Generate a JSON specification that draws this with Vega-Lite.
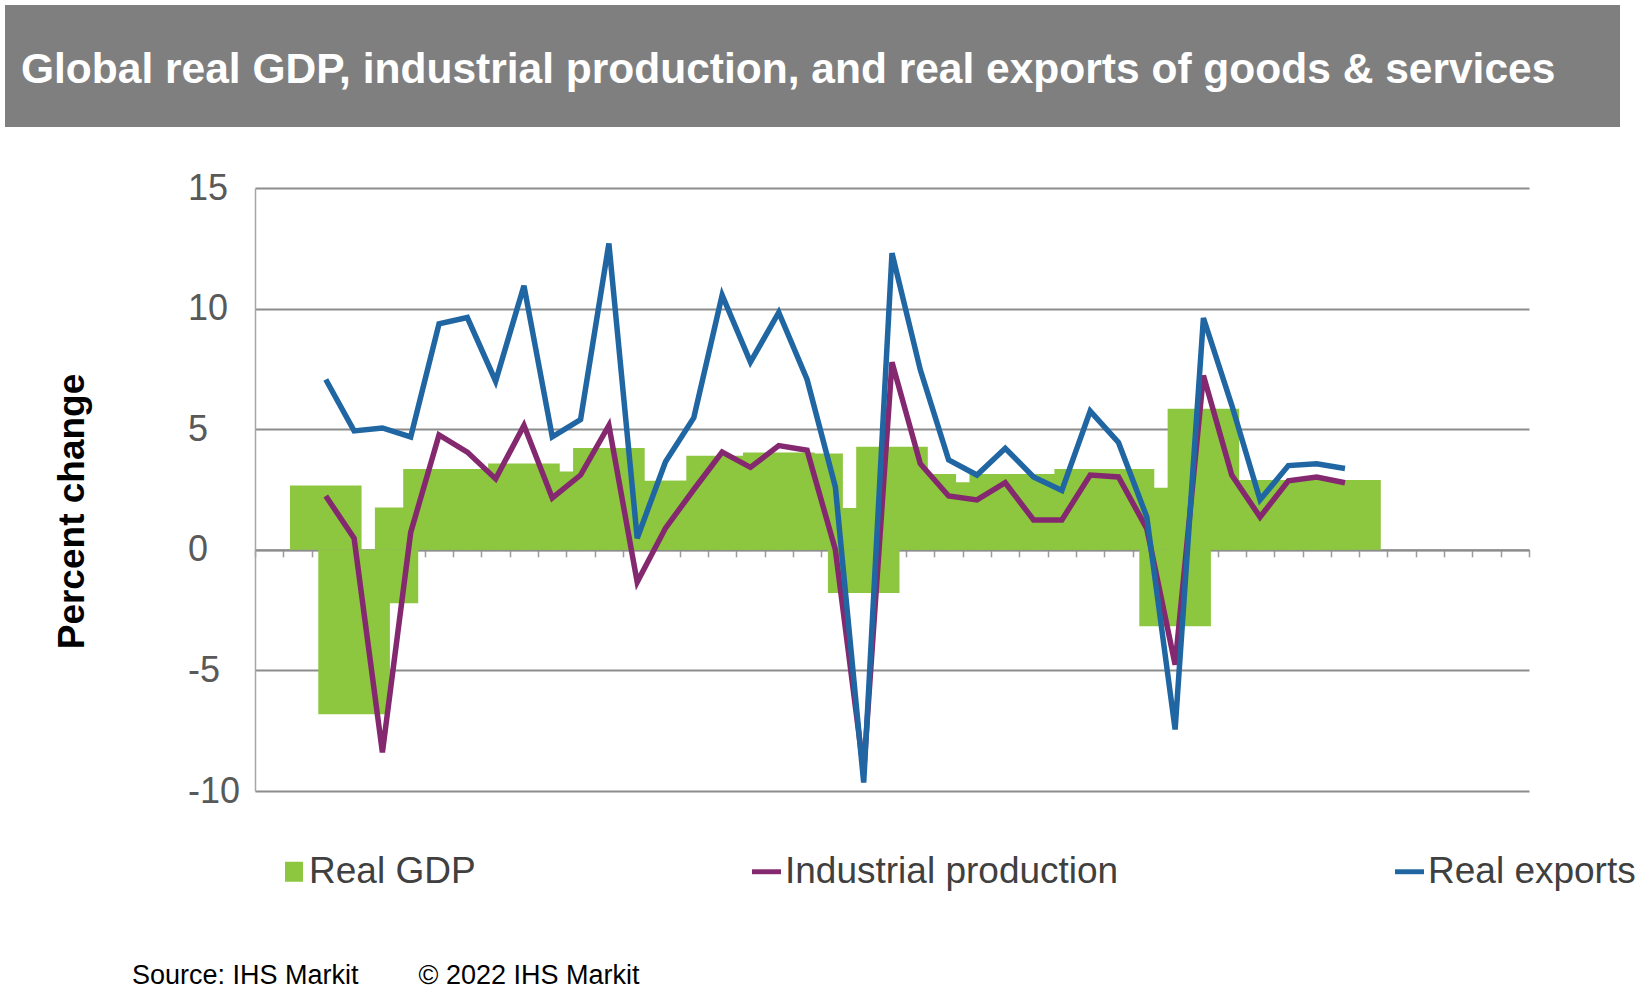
{
  "$schema": "https://vega.github.io/schema/vega-lite/v6.json",
  "background": "white",
  "padding": {"left": 5, "top": 5, "right": 0, "bottom": 0},
  "spacing": 43,
  "config": {
    "view": {"stroke": null},
    "font": "Liberation Sans"
  },
  "vconcat": [
    {
      "width": 1615,
      "height": 122,
      "data": {"values": []},
      "mark": "point",
      "view": {"fill": "#7f7f7f", "stroke": null},
      "title": {
        "text": "Global real GDP, industrial production, and real exports of goods & services",
        "orient": "top",
        "anchor": "start",
        "frame": "group",
        "offset": -120,
        "dx": 16,
        "baseline": "alphabetic",
        "font": "Liberation Sans",
        "fontSize": 42.5,
        "fontWeight": "bold",
        "color": "white"
      }
    },
    {
      "spacing": 0,
      "hconcat": [
        {
          "width": 48,
          "height": 10,
          "data": {"values": []},
          "mark": "point"
        },
        {
          "width": 1274,
          "height": 603,
          "title": {
            "text": "Source: IHS Markit\u00a0\u00a0\u00a0\u00a0\u00a0\u00a0\u00a0\u00a0© 2022 IHS Markit",
            "orient": "bottom",
            "anchor": "start",
            "frame": "group",
            "dx": -123,
            "offset": 175,
            "baseline": "alphabetic",
            "font": "Liberation Sans",
            "fontSize": 27,
            "fontWeight": "normal",
            "color": "black"
          },
          "data": {
            "values": [
              {"q": 2, "Real GDP": 2.67, "Industrial production": 2.23, "Real exports": 7.06},
              {"q": 3, "Real GDP": -6.82, "Industrial production": 0.48, "Real exports": 4.93},
              {"q": 4, "Real GDP": -2.22, "Industrial production": -8.4, "Real exports": 5.05},
              {"q": 5, "Real GDP": 1.75, "Industrial production": 0.72, "Real exports": 4.68},
              {"q": 6, "Real GDP": 3.35, "Industrial production": 4.76, "Real exports": 9.37},
              {"q": 7, "Real GDP": 3.35, "Industrial production": 4.05, "Real exports": 9.63},
              {"q": 8, "Real GDP": 3.3, "Industrial production": 2.94, "Real exports": 6.99},
              {"q": 9, "Real GDP": 3.58, "Industrial production": 5.16, "Real exports": 10.95},
              {"q": 10, "Real GDP": 3.25, "Industrial production": 2.15, "Real exports": 4.68},
              {"q": 11, "Real GDP": 3.1, "Industrial production": 3.1, "Real exports": 5.4},
              {"q": 12, "Real GDP": 4.22, "Industrial production": 5.16, "Real exports": 12.7},
              {"q": 13, "Real GDP": 2.6, "Industrial production": -1.34, "Real exports": 0.48},
              {"q": 14, "Real GDP": 2.86, "Industrial production": 0.9, "Real exports": 3.65},
              {"q": 15, "Real GDP": 2.86, "Industrial production": 2.5, "Real exports": 5.48},
              {"q": 16, "Real GDP": 3.9, "Industrial production": 4.05, "Real exports": 10.56},
              {"q": 17, "Real GDP": 3.8, "Industrial production": 3.42, "Real exports": 7.78},
              {"q": 18, "Real GDP": 4.03, "Industrial production": 4.32, "Real exports": 9.84},
              {"q": 19, "Real GDP": 3.99, "Industrial production": 4.13, "Real exports": 7.06},
              {"q": 20, "Real GDP": 1.73, "Industrial production": 0.0, "Real exports": 2.6},
              {"q": 21, "Real GDP": -1.79, "Industrial production": -9.2, "Real exports": -9.65},
              {"q": 22, "Real GDP": 4.27, "Industrial production": 7.78, "Real exports": 12.3},
              {"q": 23, "Real GDP": 3.14, "Industrial production": 3.57, "Real exports": 7.46},
              {"q": 24, "Real GDP": 2.79, "Industrial production": 2.23, "Real exports": 3.73},
              {"q": 25, "Real GDP": 2.79, "Industrial production": 2.07, "Real exports": 3.1},
              {"q": 26, "Real GDP": 3.14, "Industrial production": 2.78, "Real exports": 4.21},
              {"q": 27, "Real GDP": 3.14, "Industrial production": 1.24, "Real exports": 3.02},
              {"q": 28, "Real GDP": 2.9, "Industrial production": 1.24, "Real exports": 2.46},
              {"q": 29, "Real GDP": 3.35, "Industrial production": 3.1, "Real exports": 5.75},
              {"q": 30, "Real GDP": 3.35, "Industrial production": 3.02, "Real exports": 4.45},
              {"q": 31, "Real GDP": 2.57, "Industrial production": 0.88, "Real exports": 1.36},
              {"q": 32, "Real GDP": -3.17, "Industrial production": -4.76, "Real exports": -7.45},
              {"q": 33, "Real GDP": 5.85, "Industrial production": 7.23, "Real exports": 9.61},
              {"q": 34, "Real GDP": 2.89, "Industrial production": 3.1, "Real exports": 6.0},
              {"q": 35, "Real GDP": 2.89, "Industrial production": 1.36, "Real exports": 2.07},
              {"q": 36, "Real GDP": 2.89, "Industrial production": 2.86, "Real exports": 3.49},
              {"q": 37, "Real GDP": 2.89, "Industrial production": 3.02, "Real exports": 3.57},
              {"q": 38, "Real GDP": 2.89, "Industrial production": 2.78, "Real exports": 3.37}
            ]
          },
          "transform": [
            {"fold": ["Real GDP", "Industrial production", "Real exports"], "as": ["series", "value"]}
          ],
          "encoding": {
            "x": {
              "field": "q",
              "type": "quantitative",
              "scale": {"domain": [-0.5, 44.5], "nice": false, "zero": false, "padding": 0},
              "axis": {
                "values": [-0.5, 0.5, 1.5, 2.5, 3.5, 4.5, 5.5, 6.5, 7.5, 8.5, 9.5, 10.5, 11.5, 12.5, 13.5, 14.5, 15.5, 16.5, 17.5, 18.5, 19.5, 20.5, 21.5, 22.5, 23.5, 24.5, 25.5, 26.5, 27.5, 28.5, 29.5, 30.5, 31.5, 32.5, 33.5, 34.5, 35.5, 36.5, 37.5, 38.5, 39.5, 40.5, 41.5, 42.5, 43.5, 44.5],
                "labels": false,
                "grid": false,
                "title": null,
                "domain": true,
                "domainColor": "#8c8c8c",
                "domainWidth": 2,
                "ticks": true,
                "tickColor": "#9a9a9a",
                "tickSize": 7,
                "tickWidth": 1.5,
                "offset": -241.2
              }
            },
            "y": {
              "field": "value",
              "type": "quantitative",
              "stack": null,
              "scale": {"domain": [-10, 15], "nice": false},
              "axis": {
                "values": [-10, -5, 0, 5, 10, 15],
                "labelExpr": "datum.value < 0 ? '-' + abs(datum.value) : '' + datum.value",
                "grid": true,
                "gridColor": "#8c8c8c",
                "gridWidth": 2,
                "domain": true,
                "domainColor": "#a6a6a6",
                "domainWidth": 1.5,
                "ticks": false,
                "tickSize": 0,
                "labelAlign": "left",
                "labelPadding": 67.6,
                "labelFont": "Liberation Sans",
                "labelFontSize": 36,
                "labelColor": "#595959",
                "title": "Percent change",
                "titleFont": "Liberation Sans",
                "titleFontSize": 37,
                "titleFontWeight": "bold",
                "titleColor": "black",
                "titleAngle": -90,
                "titleX": -172,
                "titleY": 323,
                "titleAlign": "center",
                "titleBaseline": "alphabetic"
              }
            },
            "color": {
              "field": "series",
              "type": "nominal",
              "scale": {
                "domain": ["Real GDP", "Industrial production", "Real exports"],
                "range": ["#8dc63f", "#84296f", "#1f66a3"]
              },
              "legend": {
                "orient": "none",
                "legendX": 267,
                "legendY": 848,
                "direction": "horizontal",
                "columns": 3,
                "gridAlign": "each",
                "columnPadding": 272,
                "title": null,
                "padding": 0,
                "labelFont": "Liberation Sans",
                "labelFontSize": 37,
                "labelColor": "#404040",
                "labelOffset": 0,
                "labelLimit": 1000,
                "symbolSize": 841,
                "encode": {
                  "symbols": {
                    "update": {
                      "shape": {"signal": "datum.value === 'Real GDP' ? 'M-0.38,-0.69H0.86V0.69H-0.38Z' : 'M-1,-0.17H1V0.17H-1Z'"},
                      "fill": {"scale": "color", "field": "value"},
                      "stroke": {"value": "transparent"},
                      "strokeWidth": {"value": 0},
                      "opacity": {"value": 1}
                    }
                  }
                }
              }
            }
          },
          "layer": [
            {
              "transform": [{"filter": "datum.series === 'Real GDP'"}],
              "mark": {"type": "bar", "orient": "vertical", "width": 71.6}
            },
            {
              "transform": [{"filter": "datum.series !== 'Real GDP'"}],
              "mark": {"type": "line", "strokeWidth": 5.5}
            }
          ]
        }
      ]
    }
  ]
}
